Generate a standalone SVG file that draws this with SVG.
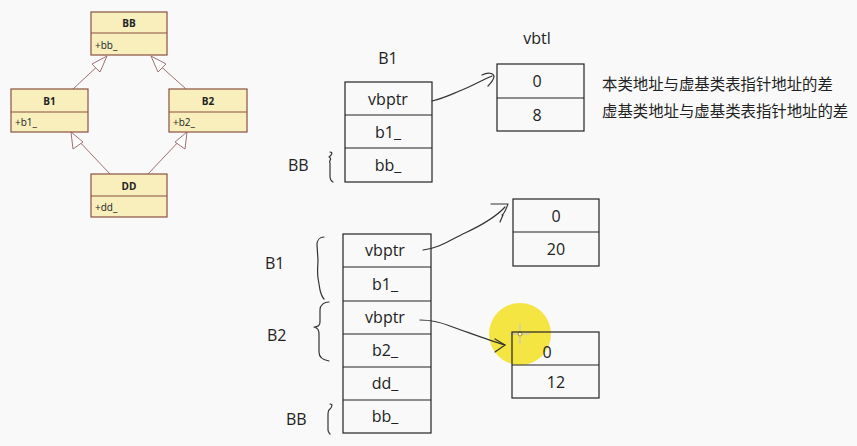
<svg xmlns="http://www.w3.org/2000/svg" width="857" height="446" viewBox="0 0 857 446">
<defs>
<style>
.uml{fill:#f8efbd;stroke:#8a5040;stroke-width:1.2}
.umlt{font-family:"Open Sans","Liberation Sans",sans-serif;font-size:10px;fill:#222}
.umlh{font-weight:bold;text-anchor:middle}
.inh{stroke:#a07070;stroke-width:1;fill:none}
.tri{fill:#fff;stroke:#a07070;stroke-width:1}
.box{fill:none;stroke:#222;stroke-width:1.2}
.t{font-family:"Open Sans","Liberation Sans",sans-serif;font-size:16px;fill:#222;text-anchor:middle}
.lbl{font-family:"Open Sans","Liberation Sans",sans-serif;font-size:16px;fill:#222}
.cn{font-family:"Liberation Sans","Noto Sans CJK SC",sans-serif;font-size:15.4px;fill:#222}
.pen{fill:none;stroke:#333;stroke-width:1.2;stroke-linecap:round;stroke-linejoin:round}
</style>
</defs>
<rect width="857" height="446" fill="#f9f9f9"/>

<g id="uml-connectors">
<line class="inh" x1="73" y1="89" x2="102" y2="62"/>
<polygon class="tri" points="107,56 92,64 100,72"/>
<line class="inh" x1="186" y1="89" x2="156" y2="62"/>
<polygon class="tri" points="151,56 158,72 166,64"/>
<line class="inh" x1="110" y1="174" x2="76" y2="138"/>
<polygon class="tri" points="71,132 73,149 83,142"/>
<line class="inh" x1="148" y1="174" x2="182" y2="138"/>
<polygon class="tri" points="187,132 175,142 185,149"/>
</g>

<g id="uml-BB">
<rect class="uml" x="91" y="12" width="76" height="43"/>
<line class="uml" x1="91" y1="33" x2="167" y2="33"/>
<text class="umlt umlh" x="129" y="27">BB</text>
<text class="umlt" x="95" y="49">+bb_</text>
</g>
<g id="uml-B1">
<rect class="uml" x="11" y="89" width="77" height="43"/>
<line class="uml" x1="11" y1="112" x2="88" y2="112"/>
<text class="umlt umlh" x="49.5" y="105">B1</text>
<text class="umlt" x="15" y="126">+b1_</text>
</g>
<g id="uml-B2">
<rect class="uml" x="169" y="89" width="78" height="43"/>
<line class="uml" x1="169" y1="112" x2="247" y2="112"/>
<text class="umlt umlh" x="208" y="105">B2</text>
<text class="umlt" x="173" y="126">+b2_</text>
</g>
<g id="uml-DD">
<rect class="uml" x="91" y="174" width="76" height="43"/>
<line class="uml" x1="91" y1="196" x2="167" y2="196"/>
<text class="umlt umlh" x="129" y="190">DD</text>
<text class="umlt" x="95" y="211">+dd_</text>
</g>

<g id="highlight">
<circle cx="520" cy="334" r="31" fill="#f3e22e" opacity="0.9"/>
<g stroke="#fff8c0" stroke-width="2">
<line x1="520" y1="324" x2="520" y2="344"/>
<line x1="510" y1="334" x2="530" y2="334"/>
</g>
<g stroke="#8a7a20" stroke-width="0.6">
<line x1="520" y1="324" x2="520" y2="344"/>
<line x1="510" y1="334" x2="530" y2="334"/>
</g>
<circle cx="520" cy="334" r="2" fill="#fff8c0" stroke="#8a7a20" stroke-width="0.8"/>
</g>

<g id="b1-layout">
<text class="t" x="388" y="64">B1</text>
<rect class="box" x="345" y="82" width="87" height="100"/>
<line class="box" x1="345" y1="115" x2="432" y2="115"/>
<line class="box" x1="345" y1="148" x2="432" y2="148"/>
<text class="t" x="388" y="105">vbptr</text>
<text class="t" x="388" y="138">b1_</text>
<text class="t" x="388" y="171">bb_</text>
<text class="lbl" x="288" y="171">BB</text>
<path class="pen" d="M330,152 C333,152 332,155 329,157 C333,159 328,161 330,163 L330,176 C330,179 331,181 333,182"/>
</g>

<g id="vbtl1">
<text class="t" x="537" y="44">vbtl</text>
<rect class="box" x="497" y="64" width="87" height="67"/>
<line class="box" x1="497" y1="98" x2="584" y2="98"/>
<text class="t" x="537" y="87">0</text>
<text class="t" x="537" y="121">8</text>
</g>

<g id="notes">
<text class="cn" x="602" y="90">本类地址与虚基类表指针地址的差</text>
<text class="cn" x="602" y="117">虚基类地址与虚基类表指针地址的差</text>
</g>

<g id="dd-layout">
<rect class="box" x="343" y="234" width="88" height="199"/>
<line class="box" x1="343" y1="267" x2="431" y2="267"/>
<line class="box" x1="343" y1="301" x2="431" y2="301"/>
<line class="box" x1="343" y1="334" x2="431" y2="334"/>
<line class="box" x1="343" y1="367" x2="431" y2="367"/>
<line class="box" x1="343" y1="400" x2="431" y2="400"/>
<text class="t" x="385" y="256">vbptr</text>
<text class="t" x="385" y="290">b1_</text>
<text class="t" x="385" y="323">vbptr</text>
<text class="t" x="385" y="356">b2_</text>
<text class="t" x="385" y="389">dd_</text>
<text class="t" x="385" y="422">bb_</text>
<text class="lbl" x="265" y="269">B1</text>
<text class="lbl" x="267" y="341">B2</text>
<text class="lbl" x="286" y="425">BB</text>
<path class="pen" d="M324,237 C320,237 317,240 317,245 L318,260 C318,265 317,270 318,278 L320,290 C321,294 322,297 324,299"/>
<path class="pen" d="M329,302 C324,302 320,305 320,310 L320,322 C320,325 318,327 314,327 C318,328 319,330 319,335 L319,352 C319,357 323,360 329,361"/>
<path class="pen" d="M330,404 C333,404 332,407 330,409 C328,410 328,412 328,415 L328,430 C328,432 329,433 330,434"/>
</g>

<g id="vbtl2">
<rect class="box" x="513" y="199" width="86" height="67"/>
<line class="box" x1="513" y1="232" x2="599" y2="232"/>
<text class="t" x="556" y="222">0</text>
<text class="t" x="556" y="255">20</text>
</g>

<g id="vbtl3">
<rect class="box" x="512" y="332" width="87" height="66"/>
<line class="box" x1="512" y1="365" x2="599" y2="365"/>
<text class="t" x="547" y="358">0</text>
<text class="t" x="556" y="388">12</text>
</g>

<g id="connectors">
<path class="pen" d="M432,101 C445,98 452,94 462,90 C472,86 482,80 492,76"/>
<path class="pen" d="M482,75 C488,72 493,73 494,76 C494,80 491,83 488,86"/>
<path class="pen" d="M423,250 C440,248 450,240 465,233 C480,226 495,218 505,207"/>
<path class="pen" d="M491,204 L508,204 C506,209 505,213 502,215 M503,215 L500,222"/>
<path class="pen" d="M420,320 C432,320 440,322 450,326 C470,333 488,340 505,345"/>
<path class="pen" d="M495,339 L505,345 L495,352"/>
</g>
</svg>
